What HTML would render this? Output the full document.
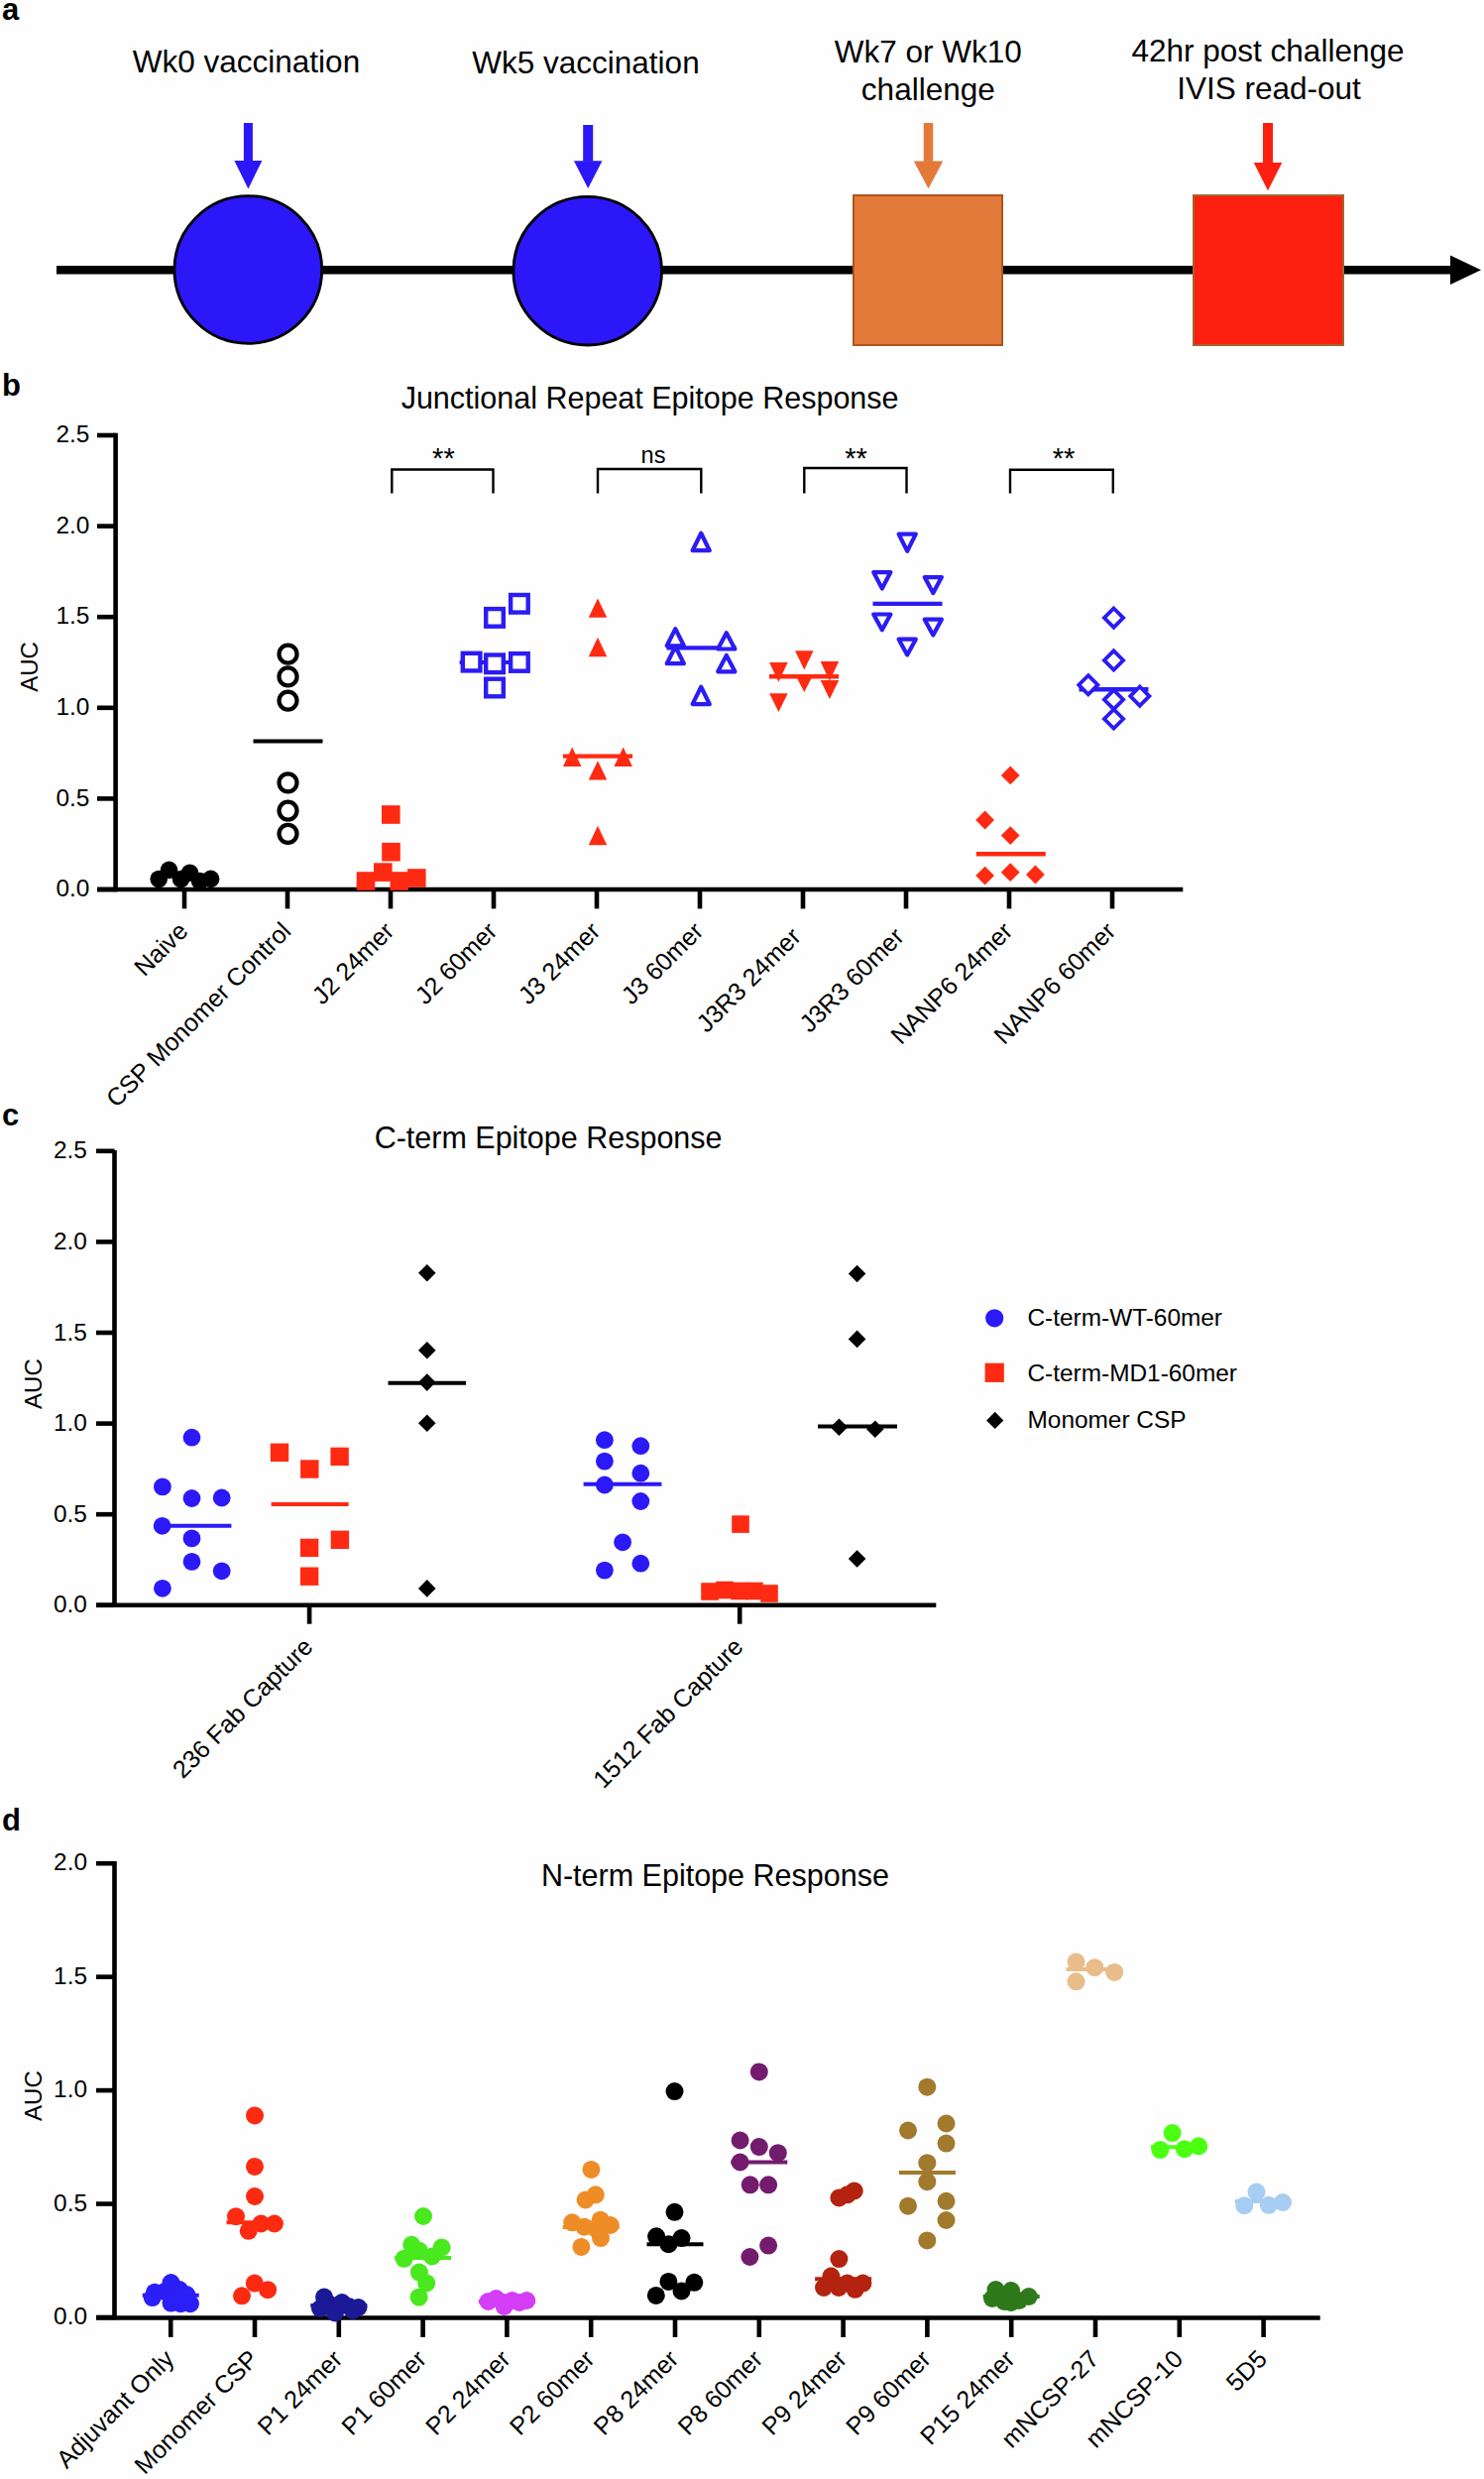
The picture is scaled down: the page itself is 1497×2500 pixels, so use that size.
<!DOCTYPE html>
<html><head><meta charset="utf-8"><title>Figure</title>
<style>
html,body{margin:0;padding:0;background:#fefefe;}
body{width:1497px;height:2500px;overflow:hidden;}
svg{display:block;font-family:"Liberation Sans", sans-serif;}
</style></head>
<body>
<svg width="1497" height="2500" viewBox="0 0 1497 2500">
<rect x="0" y="0" width="1497" height="2500" fill="#fefefe"/>
<text x="2" y="19.5" font-size="31" text-anchor="start" font-weight="bold" fill="#000">a</text>
<line x1="57" y1="272.3" x2="1466" y2="272.3" stroke="#000" stroke-width="8.6" stroke-linecap="butt"/>
<polygon points="1463,257.5 1494,272.3 1463,287" fill="#000"/>
<circle cx="250.3" cy="272" r="74.4" fill="#2b17f7" stroke="#000" stroke-width="2.8"/>
<circle cx="592.7" cy="273.2" r="74.8" fill="#2b17f7" stroke="#000" stroke-width="2.8"/>
<rect x="861" y="197" width="150" height="151" fill="#e47a3a" stroke="#b0541e" stroke-width="2"/>
<rect x="1204" y="197" width="151" height="151" fill="#fd1f0f" stroke="#a5642c" stroke-width="2"/>
<rect x="245.9" y="124" width="9" height="38.5" fill="#2b17f7"/>
<polygon points="236.4,162 264.4,162 250.4,190.4" fill="#2b17f7"/>
<rect x="588.2" y="126" width="10" height="36.8" fill="#2b17f7"/>
<polygon points="578.95,162.3 607.45,162.3 593.2,190" fill="#2b17f7"/>
<rect x="931.75" y="124" width="9.5" height="38.9" fill="#e47a3a"/>
<polygon points="921.75,162.4 951.25,162.4 936.5,190.3" fill="#e47a3a"/>
<rect x="1274" y="124" width="10" height="40.5" fill="#fd1f0f"/>
<polygon points="1264.75,164 1293.25,164 1279,192.3" fill="#fd1f0f"/>
<text x="248.5" y="73.3" font-size="31.5" text-anchor="middle" font-weight="normal" fill="#000">Wk0 vaccination</text>
<text x="591" y="73.7" font-size="31.5" text-anchor="middle" font-weight="normal" fill="#000">Wk5 vaccination</text>
<text x="936.3" y="63" font-size="31.5" text-anchor="middle" font-weight="normal" fill="#000">Wk7 or Wk10</text>
<text x="936.3" y="101" font-size="31.5" text-anchor="middle" font-weight="normal" fill="#000">challenge</text>
<text x="1279" y="62.4" font-size="31.5" text-anchor="middle" font-weight="normal" fill="#000">42hr post challenge</text>
<text x="1280" y="99.8" font-size="31.5" text-anchor="middle" font-weight="normal" fill="#000">IVIS read-out</text>
<text x="2" y="399" font-size="31" text-anchor="start" font-weight="bold" fill="#000">b</text>
<text x="655.6" y="411.5" font-size="30.5" text-anchor="middle" font-weight="normal" fill="#000">Junctional Repeat Epitope Response</text>
<line x1="116.6" y1="436.8" x2="116.6" y2="899.3" stroke="#000" stroke-width="4.6" stroke-linecap="butt"/>
<line x1="98" y1="897" x2="116.6" y2="897" stroke="#000" stroke-width="4.6" stroke-linecap="butt"/>
<text x="90.3" y="904.2" font-size="24.4" text-anchor="end" font-weight="normal" fill="#000">0.0</text>
<line x1="98" y1="805.4" x2="116.6" y2="805.4" stroke="#000" stroke-width="4.6" stroke-linecap="butt"/>
<text x="90.3" y="812.6" font-size="24.4" text-anchor="end" font-weight="normal" fill="#000">0.5</text>
<line x1="98" y1="713.8" x2="116.6" y2="713.8" stroke="#000" stroke-width="4.6" stroke-linecap="butt"/>
<text x="90.3" y="721" font-size="24.4" text-anchor="end" font-weight="normal" fill="#000">1.0</text>
<line x1="98" y1="622.2" x2="116.6" y2="622.2" stroke="#000" stroke-width="4.6" stroke-linecap="butt"/>
<text x="90.3" y="629.4" font-size="24.4" text-anchor="end" font-weight="normal" fill="#000">1.5</text>
<line x1="98" y1="530.6" x2="116.6" y2="530.6" stroke="#000" stroke-width="4.6" stroke-linecap="butt"/>
<text x="90.3" y="537.8" font-size="24.4" text-anchor="end" font-weight="normal" fill="#000">2.0</text>
<line x1="98" y1="439" x2="116.6" y2="439" stroke="#000" stroke-width="4.6" stroke-linecap="butt"/>
<text x="90.3" y="446.2" font-size="24.4" text-anchor="end" font-weight="normal" fill="#000">2.5</text>
<line x1="98" y1="897" x2="1193.3" y2="897" stroke="#000" stroke-width="4.6" stroke-linecap="butt"/>
<line x1="186" y1="897" x2="186" y2="916.4" stroke="#000" stroke-width="4.6" stroke-linecap="butt"/>
<line x1="290" y1="897" x2="290" y2="916.4" stroke="#000" stroke-width="4.6" stroke-linecap="butt"/>
<line x1="394" y1="897" x2="394" y2="916.4" stroke="#000" stroke-width="4.6" stroke-linecap="butt"/>
<line x1="498" y1="897" x2="498" y2="916.4" stroke="#000" stroke-width="4.6" stroke-linecap="butt"/>
<line x1="602" y1="897" x2="602" y2="916.4" stroke="#000" stroke-width="4.6" stroke-linecap="butt"/>
<line x1="706" y1="897" x2="706" y2="916.4" stroke="#000" stroke-width="4.6" stroke-linecap="butt"/>
<line x1="810" y1="897" x2="810" y2="916.4" stroke="#000" stroke-width="4.6" stroke-linecap="butt"/>
<line x1="914" y1="897" x2="914" y2="916.4" stroke="#000" stroke-width="4.6" stroke-linecap="butt"/>
<line x1="1018" y1="897" x2="1018" y2="916.4" stroke="#000" stroke-width="4.6" stroke-linecap="butt"/>
<line x1="1122" y1="897" x2="1122" y2="916.4" stroke="#000" stroke-width="4.6" stroke-linecap="butt"/>
<text font-size="24" text-anchor="middle" transform="translate(37.6,672.5) rotate(-90)">AUC</text>
<text font-size="25" text-anchor="end" transform="translate(191,940.5) rotate(-45)">Naive</text>
<text font-size="25" text-anchor="end" transform="translate(295,940.5) rotate(-45)">CSP Monomer Control</text>
<text font-size="25" text-anchor="end" transform="translate(399,940.5) rotate(-45)">J2 24mer</text>
<text font-size="25" text-anchor="end" transform="translate(503,940.5) rotate(-45)">J2 60mer</text>
<text font-size="25" text-anchor="end" transform="translate(607,940.5) rotate(-45)">J3 24mer</text>
<text font-size="25" text-anchor="end" transform="translate(711,940.5) rotate(-45)">J3 60mer</text>
<text font-size="25" text-anchor="end" transform="translate(809.34,946.16) rotate(-45)">J3R3 24mer</text>
<text font-size="25" text-anchor="end" transform="translate(913.34,946.16) rotate(-45)">J3R3 60mer</text>
<text font-size="25" text-anchor="end" transform="translate(1023,940.5) rotate(-45)">NANP6 24mer</text>
<text font-size="25" text-anchor="end" transform="translate(1127,940.5) rotate(-45)">NANP6 60mer</text>
<polyline points="395.3,497.5 395.3,473.5 497.5,473.5 497.5,497.5" fill="none" stroke="#000" stroke-width="2.4"/>
<text x="447.4" y="471.5" font-size="29" text-anchor="middle" font-weight="normal" fill="#000">**</text>
<polyline points="603,497.5 603,473 707.3,473 707.3,497.5" fill="none" stroke="#000" stroke-width="2.4"/>
<text x="659" y="466.5" font-size="23.5" text-anchor="middle" font-weight="normal" fill="#000">ns</text>
<polyline points="811.3,497.5 811.3,472 914.5,472 914.5,497.5" fill="none" stroke="#000" stroke-width="2.4"/>
<text x="863.5" y="471.5" font-size="29" text-anchor="middle" font-weight="normal" fill="#000">**</text>
<polyline points="1019,497.5 1019,473.7 1122.8,473.7 1122.8,497.5" fill="none" stroke="#000" stroke-width="2.4"/>
<text x="1073" y="471.5" font-size="29" text-anchor="middle" font-weight="normal" fill="#000">**</text>
<circle cx="160.2" cy="886.5" r="8.8" fill="#000"/>
<circle cx="170.5" cy="877.4" r="8.8" fill="#000"/>
<circle cx="182.5" cy="886.5" r="8.8" fill="#000"/>
<circle cx="191.5" cy="880.2" r="8.8" fill="#000"/>
<circle cx="201.6" cy="888.5" r="8.8" fill="#000"/>
<circle cx="212.6" cy="886.4" r="8.8" fill="#000"/>
<circle cx="290.5" cy="659.7" r="9" fill="#fff" stroke="#000" stroke-width="4.2"/>
<circle cx="290.5" cy="682.4" r="9" fill="#fff" stroke="#000" stroke-width="4.2"/>
<circle cx="290.5" cy="706.6" r="9" fill="#fff" stroke="#000" stroke-width="4.2"/>
<circle cx="290.5" cy="789.3" r="9" fill="#fff" stroke="#000" stroke-width="4.2"/>
<circle cx="290.5" cy="817.6" r="9" fill="#fff" stroke="#000" stroke-width="4.2"/>
<circle cx="290.5" cy="840.8" r="9" fill="#fff" stroke="#000" stroke-width="4.2"/>
<line x1="255.5" y1="747.4" x2="325.5" y2="747.4" stroke="#000" stroke-width="4" stroke-linecap="butt"/>
<rect x="385" y="812.2" width="18.6" height="18.6" fill="#ff2a12"/>
<rect x="385.2" y="849.9" width="18.6" height="18.6" fill="#ff2a12"/>
<rect x="377" y="870.3" width="18.6" height="18.6" fill="#ff2a12"/>
<rect x="359.7" y="879.2" width="18.6" height="18.6" fill="#ff2a12"/>
<rect x="393.5" y="879.2" width="18.6" height="18.6" fill="#ff2a12"/>
<rect x="411" y="876.2" width="18.6" height="18.6" fill="#ff2a12"/>
<line x1="463.6" y1="668" x2="533.6" y2="668" stroke="#2b1cf4" stroke-width="4" stroke-linecap="butt"/>
<rect x="490.2" y="614.1" width="17.6" height="17.6" fill="#fff" stroke="#2b1cf4" stroke-width="4.4"/>
<rect x="515.1" y="600" width="17.6" height="17.6" fill="#fff" stroke="#2b1cf4" stroke-width="4.4"/>
<rect x="466.8" y="658.8" width="17.6" height="17.6" fill="#fff" stroke="#2b1cf4" stroke-width="4.4"/>
<rect x="490.2" y="660.5" width="17.6" height="17.6" fill="#fff" stroke="#2b1cf4" stroke-width="4.4"/>
<rect x="515.1" y="659.1" width="17.6" height="17.6" fill="#fff" stroke="#2b1cf4" stroke-width="4.4"/>
<rect x="490.2" y="684.7" width="17.6" height="17.6" fill="#fff" stroke="#2b1cf4" stroke-width="4.4"/>
<polygon points="603,603.5 612.25,622.8 593.75,622.8" fill="#ff2a12"/>
<polygon points="603,642.7 612.25,662.2 593.75,662.2" fill="#ff2a12"/>
<polygon points="577.2,753.5 586.45,773 567.95,773" fill="#ff2a12"/>
<polygon points="628.7,753.5 637.95,773 619.45,773" fill="#ff2a12"/>
<polygon points="603,767.2 612.25,786.5 593.75,786.5" fill="#ff2a12"/>
<polygon points="603,832.7 612.25,852.2 593.75,852.2" fill="#ff2a12"/>
<line x1="568" y1="762.6" x2="638" y2="762.6" stroke="#ff2a12" stroke-width="4.4" stroke-linecap="butt"/>
<line x1="672.5" y1="653.4" x2="742.5" y2="653.4" stroke="#2b1cf4" stroke-width="4.4" stroke-linecap="butt"/>
<polygon points="707.2,537.7 715.8,555.2 698.6,555.2" fill="#fff" stroke="#2b1cf4" stroke-width="4.2" stroke-linejoin="round"/>
<polygon points="681.3,634.1 689.9,651.3 672.7,651.3" fill="#fff" stroke="#2b1cf4" stroke-width="4.2" stroke-linejoin="round"/>
<polygon points="732.8,638.3 741.4,654.5 724.2,654.5" fill="#fff" stroke="#2b1cf4" stroke-width="4.2" stroke-linejoin="round"/>
<polygon points="681.3,652.1 689.9,669.2 672.7,669.2" fill="#fff" stroke="#2b1cf4" stroke-width="4.2" stroke-linejoin="round"/>
<polygon points="732.8,660.9 741.4,677.3 724.2,677.3" fill="#fff" stroke="#2b1cf4" stroke-width="4.2" stroke-linejoin="round"/>
<polygon points="707.2,692.7 715.8,710.1 698.6,710.1" fill="#fff" stroke="#2b1cf4" stroke-width="4.2" stroke-linejoin="round"/>
<polygon points="802.05,656.3 820.55,656.3 811.3,675.6" fill="#ff2a12"/>
<polygon points="776.15,667.9 794.65,667.9 785.4,687.8" fill="#ff2a12"/>
<polygon points="827.65,666.9 846.15,666.9 836.9,686.8" fill="#ff2a12"/>
<polygon points="802.05,680 820.55,680 811.3,697.9" fill="#ff2a12"/>
<polygon points="827.65,686.1 846.15,686.1 836.9,705" fill="#ff2a12"/>
<polygon points="776.15,699.2 794.65,699.2 785.4,718.1" fill="#ff2a12"/>
<line x1="776" y1="682.3" x2="846" y2="682.3" stroke="#ff2a12" stroke-width="4.4" stroke-linecap="butt"/>
<line x1="880.5" y1="608.9" x2="950.5" y2="608.9" stroke="#2b1cf4" stroke-width="4.4" stroke-linecap="butt"/>
<polygon points="906.6,538.6 923.8,538.6 915.2,555.7" fill="#fff" stroke="#2b1cf4" stroke-width="4.2" stroke-linejoin="round"/>
<polygon points="881.2,577.1 898.4,577.1 889.8,593.5" fill="#fff" stroke="#2b1cf4" stroke-width="4.2" stroke-linejoin="round"/>
<polygon points="932.7,582.1 949.9,582.1 941.3,598.1" fill="#fff" stroke="#2b1cf4" stroke-width="4.2" stroke-linejoin="round"/>
<polygon points="881.2,619.5 898.4,619.5 889.8,635.2" fill="#fff" stroke="#2b1cf4" stroke-width="4.2" stroke-linejoin="round"/>
<polygon points="932.7,624.7 949.9,624.7 941.3,640.5" fill="#fff" stroke="#2b1cf4" stroke-width="4.2" stroke-linejoin="round"/>
<polygon points="906.6,644.7 923.8,644.7 915.2,660.4" fill="#fff" stroke="#2b1cf4" stroke-width="4.2" stroke-linejoin="round"/>
<polygon points="1019.2,772.5 1028.6,781.9 1019.2,791.3 1009.8,781.9" fill="#ff2a12"/>
<polygon points="993.6,817.6 1003,827 993.6,836.4 984.2,827" fill="#ff2a12"/>
<polygon points="1019.2,833.2 1028.6,842.6 1019.2,852 1009.8,842.6" fill="#ff2a12"/>
<polygon points="993.6,873.7 1003,883.1 993.6,892.5 984.2,883.1" fill="#ff2a12"/>
<polygon points="1019.2,870.3 1028.6,879.7 1019.2,889.1 1009.8,879.7" fill="#ff2a12"/>
<polygon points="1044.4,872.6 1053.8,882 1044.4,891.4 1035,882" fill="#ff2a12"/>
<line x1="984.8" y1="861.3" x2="1054.8" y2="861.3" stroke="#ff2a12" stroke-width="4.4" stroke-linecap="butt"/>
<line x1="1088.5" y1="695.3" x2="1158.5" y2="695.3" stroke="#2b1cf4" stroke-width="4.4" stroke-linecap="butt"/>
<polygon points="1123.5,613.5 1133.1,623.1 1123.5,632.7 1113.9,623.1" fill="#fff" stroke="#2b1cf4" stroke-width="3.8" stroke-linejoin="miter"/>
<polygon points="1123.5,656.3 1133.1,665.9 1123.5,675.5 1113.9,665.9" fill="#fff" stroke="#2b1cf4" stroke-width="3.8" stroke-linejoin="miter"/>
<polygon points="1097.8,681.1 1107.4,690.7 1097.8,700.3 1088.2,690.7" fill="#fff" stroke="#2b1cf4" stroke-width="3.8" stroke-linejoin="miter"/>
<polygon points="1123.5,696 1133.1,705.6 1123.5,715.2 1113.9,705.6" fill="#fff" stroke="#2b1cf4" stroke-width="3.8" stroke-linejoin="miter"/>
<polygon points="1149.8,692.5 1159.4,702.1 1149.8,711.7 1140.2,702.1" fill="#fff" stroke="#2b1cf4" stroke-width="3.8" stroke-linejoin="miter"/>
<polygon points="1123.5,715.4 1133.1,725 1123.5,734.6 1113.9,725" fill="#fff" stroke="#2b1cf4" stroke-width="3.8" stroke-linejoin="miter"/>
<text x="2" y="1134.5" font-size="31" text-anchor="start" font-weight="bold" fill="#000">c</text>
<text x="553.1" y="1157.7" font-size="30.5" text-anchor="middle" font-weight="normal" fill="#000">C-term Epitope Response</text>
<line x1="115.5" y1="1159.9" x2="115.5" y2="1621.1" stroke="#000" stroke-width="4.6" stroke-linecap="butt"/>
<line x1="97" y1="1618.8" x2="115.5" y2="1618.8" stroke="#000" stroke-width="4.6" stroke-linecap="butt"/>
<text x="87.8" y="1626.3" font-size="24.4" text-anchor="end" font-weight="normal" fill="#000">0.0</text>
<line x1="97" y1="1527.2" x2="115.5" y2="1527.2" stroke="#000" stroke-width="4.6" stroke-linecap="butt"/>
<text x="87.8" y="1534.7" font-size="24.4" text-anchor="end" font-weight="normal" fill="#000">0.5</text>
<line x1="97" y1="1435.6" x2="115.5" y2="1435.6" stroke="#000" stroke-width="4.6" stroke-linecap="butt"/>
<text x="87.8" y="1443.1" font-size="24.4" text-anchor="end" font-weight="normal" fill="#000">1.0</text>
<line x1="97" y1="1344" x2="115.5" y2="1344" stroke="#000" stroke-width="4.6" stroke-linecap="butt"/>
<text x="87.8" y="1351.5" font-size="24.4" text-anchor="end" font-weight="normal" fill="#000">1.5</text>
<line x1="97" y1="1252.4" x2="115.5" y2="1252.4" stroke="#000" stroke-width="4.6" stroke-linecap="butt"/>
<text x="87.8" y="1259.9" font-size="24.4" text-anchor="end" font-weight="normal" fill="#000">2.0</text>
<line x1="97" y1="1160.8" x2="115.5" y2="1160.8" stroke="#000" stroke-width="4.6" stroke-linecap="butt"/>
<text x="87.8" y="1168.3" font-size="24.4" text-anchor="end" font-weight="normal" fill="#000">2.5</text>
<line x1="97" y1="1618.8" x2="944.3" y2="1618.8" stroke="#000" stroke-width="4.6" stroke-linecap="butt"/>
<line x1="312.1" y1="1618.8" x2="312.1" y2="1637.7" stroke="#000" stroke-width="4.6" stroke-linecap="butt"/>
<line x1="746.2" y1="1618.8" x2="746.2" y2="1637.7" stroke="#000" stroke-width="4.6" stroke-linecap="butt"/>
<text font-size="24" text-anchor="middle" transform="translate(42,1395.6) rotate(-90)">AUC</text>
<text font-size="25" text-anchor="end" transform="translate(317.1,1662.2) rotate(-45)">236 Fab Capture</text>
<text font-size="25" text-anchor="end" transform="translate(751.2,1662.2) rotate(-45)">1512 Fab Capture</text>
<line x1="163.4" y1="1538.8" x2="233.4" y2="1538.8" stroke="#2b19f8" stroke-width="4" stroke-linecap="butt"/>
<circle cx="193.5" cy="1449.7" r="8.9" fill="#2b19f8"/>
<circle cx="163.9" cy="1499.4" r="8.9" fill="#2b19f8"/>
<circle cx="193.5" cy="1511" r="8.9" fill="#2b19f8"/>
<circle cx="223.7" cy="1510.5" r="8.9" fill="#2b19f8"/>
<circle cx="163.6" cy="1538.8" r="8.9" fill="#2b19f8"/>
<circle cx="193.5" cy="1551.4" r="8.9" fill="#2b19f8"/>
<circle cx="193.5" cy="1574.9" r="8.9" fill="#2b19f8"/>
<circle cx="223.7" cy="1584.3" r="8.9" fill="#2b19f8"/>
<circle cx="163.9" cy="1601.8" r="8.9" fill="#2b19f8"/>
<line x1="273.6" y1="1516.9" x2="351.6" y2="1516.9" stroke="#ff2a12" stroke-width="4" stroke-linecap="butt"/>
<rect x="272.8" y="1455.6" width="18.4" height="18.4" fill="#ff2a12"/>
<rect x="333.4" y="1459.7" width="18.4" height="18.4" fill="#ff2a12"/>
<rect x="303.1" y="1472.3" width="18.4" height="18.4" fill="#ff2a12"/>
<rect x="333.7" y="1543.6" width="18.4" height="18.4" fill="#ff2a12"/>
<rect x="302.9" y="1551.7" width="18.4" height="18.4" fill="#ff2a12"/>
<rect x="302.9" y="1580.5" width="18.4" height="18.4" fill="#ff2a12"/>
<line x1="391.5" y1="1394.8" x2="470.1" y2="1394.8" stroke="#000" stroke-width="4" stroke-linecap="butt"/>
<polygon points="430.8,1274.9 439.6,1283.7 430.8,1292.5 422,1283.7" fill="#000"/>
<polygon points="430.8,1352.9 439.6,1361.7 430.8,1370.5 422,1361.7" fill="#000"/>
<polygon points="430.8,1385.3 439.6,1394.1 430.8,1402.9 422,1394.1" fill="#000"/>
<polygon points="430.8,1426.5 439.6,1435.3 430.8,1444.1 422,1435.3" fill="#000"/>
<polygon points="430.8,1593.1 439.6,1601.9 430.8,1610.7 422,1601.9" fill="#000"/>
<line x1="588.6" y1="1496.7" x2="667.4" y2="1496.7" stroke="#2b19f8" stroke-width="4" stroke-linecap="butt"/>
<circle cx="609.9" cy="1452.2" r="8.9" fill="#2b19f8"/>
<circle cx="646.3" cy="1458.2" r="8.9" fill="#2b19f8"/>
<circle cx="609.9" cy="1473.6" r="8.9" fill="#2b19f8"/>
<circle cx="646.3" cy="1485.7" r="8.9" fill="#2b19f8"/>
<circle cx="609.9" cy="1497.5" r="8.9" fill="#2b19f8"/>
<circle cx="646.3" cy="1514" r="8.9" fill="#2b19f8"/>
<circle cx="628.1" cy="1555.3" r="8.9" fill="#2b19f8"/>
<circle cx="646.3" cy="1576.7" r="8.9" fill="#2b19f8"/>
<circle cx="609.9" cy="1583.6" r="8.9" fill="#2b19f8"/>
<rect x="738.2" y="1528.3" width="17.6" height="17.6" fill="#ff2a12"/>
<rect x="707.2" y="1596.2" width="17.6" height="17.6" fill="#ff2a12"/>
<rect x="722.2" y="1594.7" width="17.6" height="17.6" fill="#ff2a12"/>
<rect x="737.2" y="1595.7" width="17.6" height="17.6" fill="#ff2a12"/>
<rect x="752.2" y="1595.7" width="17.6" height="17.6" fill="#ff2a12"/>
<rect x="767.2" y="1598.2" width="17.6" height="17.6" fill="#ff2a12"/>
<line x1="825" y1="1438.4" x2="905" y2="1438.4" stroke="#000" stroke-width="4" stroke-linecap="butt"/>
<polygon points="864.6,1275.7 873.4,1284.5 864.6,1293.3 855.8,1284.5" fill="#000"/>
<polygon points="864.6,1341.6 873.4,1350.4 864.6,1359.2 855.8,1350.4" fill="#000"/>
<polygon points="846.4,1430.5 855.2,1439.3 846.4,1448.1 837.6,1439.3" fill="#000"/>
<polygon points="882.8,1432.5 891.6,1441.3 882.8,1450.1 874,1441.3" fill="#000"/>
<polygon points="864.6,1563.2 873.4,1572 864.6,1580.8 855.8,1572" fill="#000"/>
<circle cx="1003.2" cy="1329.3" r="9.1" fill="#2b19f8"/>
<rect x="993.6" y="1374.7" width="19.2" height="19.2" fill="#ff2a12"/>
<polygon points="1003.7,1423.8 1012.3,1432.4 1003.7,1441 995.1,1432.4" fill="#000"/>
<text x="1036.5" y="1337" font-size="24.4" text-anchor="start" font-weight="normal" fill="#000">C-term-WT-60mer</text>
<text x="1036.5" y="1392.6" font-size="24.4" text-anchor="start" font-weight="normal" fill="#000">C-term-MD1-60mer</text>
<text x="1036.5" y="1439.5" font-size="24.4" text-anchor="start" font-weight="normal" fill="#000">Monomer CSP</text>
<text x="2" y="1846" font-size="31" text-anchor="start" font-weight="bold" fill="#000">d</text>
<text x="721.4" y="1902.3" font-size="30.5" text-anchor="middle" font-weight="normal" fill="#000">N-term Epitope Response</text>
<line x1="115.5" y1="1876.9" x2="115.5" y2="2339.3" stroke="#000" stroke-width="4.6" stroke-linecap="butt"/>
<line x1="97" y1="2337" x2="115.5" y2="2337" stroke="#000" stroke-width="4.6" stroke-linecap="butt"/>
<text x="88" y="2344.2" font-size="24.4" text-anchor="end" font-weight="normal" fill="#000">0.0</text>
<line x1="97" y1="2222.55" x2="115.5" y2="2222.55" stroke="#000" stroke-width="4.6" stroke-linecap="butt"/>
<text x="88" y="2229.75" font-size="24.4" text-anchor="end" font-weight="normal" fill="#000">0.5</text>
<line x1="97" y1="2108.1" x2="115.5" y2="2108.1" stroke="#000" stroke-width="4.6" stroke-linecap="butt"/>
<text x="88" y="2115.3" font-size="24.4" text-anchor="end" font-weight="normal" fill="#000">1.0</text>
<line x1="97" y1="1993.65" x2="115.5" y2="1993.65" stroke="#000" stroke-width="4.6" stroke-linecap="butt"/>
<text x="88" y="2000.85" font-size="24.4" text-anchor="end" font-weight="normal" fill="#000">1.5</text>
<line x1="97" y1="1879.2" x2="115.5" y2="1879.2" stroke="#000" stroke-width="4.6" stroke-linecap="butt"/>
<text x="88" y="1886.4" font-size="24.4" text-anchor="end" font-weight="normal" fill="#000">2.0</text>
<line x1="97" y1="2337.5" x2="1331.7" y2="2337.5" stroke="#000" stroke-width="4.6" stroke-linecap="butt"/>
<line x1="172.2" y1="2337" x2="172.2" y2="2357" stroke="#000" stroke-width="4.6" stroke-linecap="butt"/>
<line x1="257" y1="2337" x2="257" y2="2357" stroke="#000" stroke-width="4.6" stroke-linecap="butt"/>
<line x1="341.8" y1="2337" x2="341.8" y2="2357" stroke="#000" stroke-width="4.6" stroke-linecap="butt"/>
<line x1="426.6" y1="2337" x2="426.6" y2="2357" stroke="#000" stroke-width="4.6" stroke-linecap="butt"/>
<line x1="511.4" y1="2337" x2="511.4" y2="2357" stroke="#000" stroke-width="4.6" stroke-linecap="butt"/>
<line x1="596.2" y1="2337" x2="596.2" y2="2357" stroke="#000" stroke-width="4.6" stroke-linecap="butt"/>
<line x1="681" y1="2337" x2="681" y2="2357" stroke="#000" stroke-width="4.6" stroke-linecap="butt"/>
<line x1="765.8" y1="2337" x2="765.8" y2="2357" stroke="#000" stroke-width="4.6" stroke-linecap="butt"/>
<line x1="850.6" y1="2337" x2="850.6" y2="2357" stroke="#000" stroke-width="4.6" stroke-linecap="butt"/>
<line x1="935.4" y1="2337" x2="935.4" y2="2357" stroke="#000" stroke-width="4.6" stroke-linecap="butt"/>
<line x1="1020.2" y1="2337" x2="1020.2" y2="2357" stroke="#000" stroke-width="4.6" stroke-linecap="butt"/>
<line x1="1105" y1="2337" x2="1105" y2="2357" stroke="#000" stroke-width="4.6" stroke-linecap="butt"/>
<line x1="1189.8" y1="2337" x2="1189.8" y2="2357" stroke="#000" stroke-width="4.6" stroke-linecap="butt"/>
<line x1="1274.6" y1="2337" x2="1274.6" y2="2357" stroke="#000" stroke-width="4.6" stroke-linecap="butt"/>
<text font-size="24" text-anchor="middle" transform="translate(41.9,2113.6) rotate(-90)">AUC</text>
<text font-size="25" text-anchor="end" transform="translate(177.2,2380.5) rotate(-45)">Adjuvant Only</text>
<text font-size="25" text-anchor="end" transform="translate(262,2380.5) rotate(-45)">Monomer CSP</text>
<text font-size="25" text-anchor="end" transform="translate(346.8,2380.5) rotate(-45)">P1 24mer</text>
<text font-size="25" text-anchor="end" transform="translate(431.6,2380.5) rotate(-45)">P1 60mer</text>
<text font-size="25" text-anchor="end" transform="translate(516.4,2380.5) rotate(-45)">P2 24mer</text>
<text font-size="25" text-anchor="end" transform="translate(601.2,2380.5) rotate(-45)">P2 60mer</text>
<text font-size="25" text-anchor="end" transform="translate(686,2380.5) rotate(-45)">P8 24mer</text>
<text font-size="25" text-anchor="end" transform="translate(770.8,2380.5) rotate(-45)">P8 60mer</text>
<text font-size="25" text-anchor="end" transform="translate(855.6,2380.5) rotate(-45)">P9 24mer</text>
<text font-size="25" text-anchor="end" transform="translate(940.4,2380.5) rotate(-45)">P9 60mer</text>
<text font-size="25" text-anchor="end" transform="translate(1025.2,2380.5) rotate(-45)">P15 24mer</text>
<text font-size="25" text-anchor="end" transform="translate(1110,2380.5) rotate(-45)">mNCSP-27</text>
<text font-size="25" text-anchor="end" transform="translate(1194.8,2380.5) rotate(-45)">mNCSP-10</text>
<text font-size="25" text-anchor="end" transform="translate(1279.6,2380.5) rotate(-45)">5D5</text>
<line x1="143.7" y1="2314.7" x2="200.7" y2="2314.7" stroke="#2b1ff7" stroke-width="4" stroke-linecap="butt"/>
<circle cx="172.5" cy="2302" r="9" fill="#2b1ff7"/>
<circle cx="156.1" cy="2311.7" r="9" fill="#2b1ff7"/>
<circle cx="153.7" cy="2317.1" r="9" fill="#2b1ff7"/>
<circle cx="166" cy="2311" r="9" fill="#2b1ff7"/>
<circle cx="181" cy="2309" r="9" fill="#2b1ff7"/>
<circle cx="188.2" cy="2314.1" r="9" fill="#2b1ff7"/>
<circle cx="172.5" cy="2322.6" r="9" fill="#2b1ff7"/>
<circle cx="182.2" cy="2323.2" r="9" fill="#2b1ff7"/>
<circle cx="191.9" cy="2323.2" r="9" fill="#2b1ff7"/>
<line x1="228.5" y1="2241.3" x2="285.5" y2="2241.3" stroke="#fd2a12" stroke-width="4" stroke-linecap="butt"/>
<circle cx="257" cy="2133.4" r="9" fill="#fd2a12"/>
<circle cx="257" cy="2184.9" r="9" fill="#fd2a12"/>
<circle cx="257" cy="2215" r="9" fill="#fd2a12"/>
<circle cx="238" cy="2235.2" r="9" fill="#fd2a12"/>
<circle cx="250.7" cy="2249.8" r="9" fill="#fd2a12"/>
<circle cx="263.4" cy="2242.5" r="9" fill="#fd2a12"/>
<circle cx="276.8" cy="2242.5" r="9" fill="#fd2a12"/>
<circle cx="256.8" cy="2302.6" r="9" fill="#fd2a12"/>
<circle cx="244" cy="2315.3" r="9" fill="#fd2a12"/>
<circle cx="270.1" cy="2309.2" r="9" fill="#fd2a12"/>
<line x1="313.3" y1="2325" x2="370.3" y2="2325" stroke="#1c1996" stroke-width="4" stroke-linecap="butt"/>
<circle cx="327" cy="2316.5" r="9" fill="#1c1996"/>
<circle cx="323" cy="2328" r="9" fill="#1c1996"/>
<circle cx="333" cy="2324" r="9" fill="#1c1996"/>
<circle cx="338" cy="2332.5" r="9" fill="#1c1996"/>
<circle cx="345" cy="2322" r="9" fill="#1c1996"/>
<circle cx="352" cy="2326" r="9" fill="#1c1996"/>
<circle cx="361.5" cy="2327" r="9" fill="#1c1996"/>
<circle cx="356" cy="2330" r="9" fill="#1c1996"/>
<line x1="398.1" y1="2277" x2="455.1" y2="2277" stroke="#4ae81e" stroke-width="4" stroke-linecap="butt"/>
<circle cx="427" cy="2235" r="9" fill="#4ae81e"/>
<circle cx="415.2" cy="2263.8" r="9" fill="#4ae81e"/>
<circle cx="445.6" cy="2266.5" r="9" fill="#4ae81e"/>
<circle cx="422.9" cy="2269.8" r="9" fill="#4ae81e"/>
<circle cx="407.6" cy="2277.8" r="9" fill="#4ae81e"/>
<circle cx="435.9" cy="2275.4" r="9" fill="#4ae81e"/>
<circle cx="422.9" cy="2291.6" r="9" fill="#4ae81e"/>
<circle cx="430.2" cy="2302.4" r="9" fill="#4ae81e"/>
<circle cx="422.6" cy="2316.7" r="9" fill="#4ae81e"/>
<line x1="482.9" y1="2321" x2="539.9" y2="2321" stroke="#d33ef6" stroke-width="4" stroke-linecap="butt"/>
<circle cx="492.5" cy="2321" r="9" fill="#d33ef6"/>
<circle cx="500.5" cy="2318" r="9" fill="#d33ef6"/>
<circle cx="508.6" cy="2322" r="9" fill="#d33ef6"/>
<circle cx="516.7" cy="2320" r="9" fill="#d33ef6"/>
<circle cx="524" cy="2322" r="9" fill="#d33ef6"/>
<circle cx="531.3" cy="2320" r="9" fill="#d33ef6"/>
<circle cx="508.6" cy="2326" r="9" fill="#d33ef6"/>
<line x1="567.7" y1="2246" x2="624.7" y2="2246" stroke="#ee8c26" stroke-width="4" stroke-linecap="butt"/>
<circle cx="596.4" cy="2187.9" r="9" fill="#ee8c26"/>
<circle cx="600.8" cy="2213.3" r="9" fill="#ee8c26"/>
<circle cx="590.6" cy="2218.5" r="9" fill="#ee8c26"/>
<circle cx="577.2" cy="2241.3" r="9" fill="#ee8c26"/>
<circle cx="589.4" cy="2245.7" r="9" fill="#ee8c26"/>
<circle cx="605.7" cy="2238.7" r="9" fill="#ee8c26"/>
<circle cx="615.7" cy="2244" r="9" fill="#ee8c26"/>
<circle cx="606" cy="2257.1" r="9" fill="#ee8c26"/>
<circle cx="586.4" cy="2265.9" r="9" fill="#ee8c26"/>
<circle cx="600.8" cy="2247.5" r="9" fill="#ee8c26"/>
<line x1="652.5" y1="2263.2" x2="709.5" y2="2263.2" stroke="#000000" stroke-width="4" stroke-linecap="butt"/>
<circle cx="680.5" cy="2109.1" r="9" fill="#000000"/>
<circle cx="680.5" cy="2230.8" r="9" fill="#000000"/>
<circle cx="662.1" cy="2255.3" r="9" fill="#000000"/>
<circle cx="687.5" cy="2257.1" r="9" fill="#000000"/>
<circle cx="674.4" cy="2263.2" r="9" fill="#000000"/>
<circle cx="674.4" cy="2300.9" r="9" fill="#000000"/>
<circle cx="700.3" cy="2301.8" r="9" fill="#000000"/>
<circle cx="687.5" cy="2310.5" r="9" fill="#000000"/>
<circle cx="661.8" cy="2314.9" r="9" fill="#000000"/>
<line x1="737.3" y1="2180.5" x2="794.3" y2="2180.5" stroke="#731c6e" stroke-width="4" stroke-linecap="butt"/>
<circle cx="765.8" cy="2089.4" r="9" fill="#731c6e"/>
<circle cx="746.6" cy="2158.5" r="9" fill="#731c6e"/>
<circle cx="765.8" cy="2165.1" r="9" fill="#731c6e"/>
<circle cx="784.8" cy="2171.2" r="9" fill="#731c6e"/>
<circle cx="746.6" cy="2180.5" r="9" fill="#731c6e"/>
<circle cx="756.7" cy="2203.3" r="9" fill="#731c6e"/>
<circle cx="775.1" cy="2203.3" r="9" fill="#731c6e"/>
<circle cx="775.1" cy="2264.6" r="9" fill="#731c6e"/>
<circle cx="756.4" cy="2276" r="9" fill="#731c6e"/>
<line x1="822.1" y1="2298.3" x2="879.1" y2="2298.3" stroke="#b42210" stroke-width="4" stroke-linecap="butt"/>
<circle cx="846.4" cy="2216.4" r="9" fill="#b42210"/>
<circle cx="861.7" cy="2209.4" r="9" fill="#b42210"/>
<circle cx="854.7" cy="2213.3" r="9" fill="#b42210"/>
<circle cx="846.4" cy="2278.1" r="9" fill="#b42210"/>
<circle cx="838.4" cy="2295.6" r="9" fill="#b42210"/>
<circle cx="831" cy="2307" r="9" fill="#b42210"/>
<circle cx="846" cy="2307" r="9" fill="#b42210"/>
<circle cx="854.7" cy="2302.6" r="9" fill="#b42210"/>
<circle cx="870.4" cy="2302.6" r="9" fill="#b42210"/>
<circle cx="862.6" cy="2308.8" r="9" fill="#b42210"/>
<line x1="906.9" y1="2191" x2="963.9" y2="2191" stroke="#a27a2e" stroke-width="4" stroke-linecap="butt"/>
<circle cx="935.3" cy="2104.7" r="9" fill="#a27a2e"/>
<circle cx="954.5" cy="2141.5" r="9" fill="#a27a2e"/>
<circle cx="916" cy="2148.5" r="9" fill="#a27a2e"/>
<circle cx="954.5" cy="2161.6" r="9" fill="#a27a2e"/>
<circle cx="935.3" cy="2181.2" r="9" fill="#a27a2e"/>
<circle cx="935.3" cy="2200.2" r="9" fill="#a27a2e"/>
<circle cx="916" cy="2224.7" r="9" fill="#a27a2e"/>
<circle cx="954.5" cy="2219.8" r="9" fill="#a27a2e"/>
<circle cx="954.5" cy="2239" r="9" fill="#a27a2e"/>
<circle cx="935.3" cy="2259.4" r="9" fill="#a27a2e"/>
<line x1="991.7" y1="2316" x2="1048.7" y2="2316" stroke="#2e7a1b" stroke-width="4" stroke-linecap="butt"/>
<circle cx="1001" cy="2318" r="9" fill="#2e7a1b"/>
<circle cx="1004.5" cy="2309" r="9" fill="#2e7a1b"/>
<circle cx="1020" cy="2310" r="9" fill="#2e7a1b"/>
<circle cx="1020" cy="2322" r="9" fill="#2e7a1b"/>
<circle cx="1037.8" cy="2316" r="9" fill="#2e7a1b"/>
<circle cx="1013" cy="2321" r="9" fill="#2e7a1b"/>
<circle cx="1028" cy="2320" r="9" fill="#2e7a1b"/>
<line x1="1075.5" y1="1986" x2="1132.5" y2="1986" stroke="#e8bd8a" stroke-width="4" stroke-linecap="butt"/>
<circle cx="1085.5" cy="1978.5" r="9" fill="#e8bd8a"/>
<circle cx="1085.5" cy="1998.3" r="9" fill="#e8bd8a"/>
<circle cx="1104.3" cy="1984.2" r="9" fill="#e8bd8a"/>
<circle cx="1124.2" cy="1988.9" r="9" fill="#e8bd8a"/>
<line x1="1161" y1="2165.3" x2="1218" y2="2165.3" stroke="#4cff12" stroke-width="4" stroke-linecap="butt"/>
<circle cx="1182.6" cy="2151.1" r="9" fill="#4cff12"/>
<circle cx="1170.4" cy="2168.1" r="9" fill="#4cff12"/>
<circle cx="1194.9" cy="2167.2" r="9" fill="#4cff12"/>
<circle cx="1209.1" cy="2164.3" r="9" fill="#4cff12"/>
<line x1="1245.7" y1="2220" x2="1302.7" y2="2220" stroke="#a8cdf3" stroke-width="4" stroke-linecap="butt"/>
<circle cx="1267.5" cy="2210.6" r="9" fill="#a8cdf3"/>
<circle cx="1255.3" cy="2224.2" r="9" fill="#a8cdf3"/>
<circle cx="1279.8" cy="2223.8" r="9" fill="#a8cdf3"/>
<circle cx="1294" cy="2221" r="9" fill="#a8cdf3"/>
</svg>
</body></html>
